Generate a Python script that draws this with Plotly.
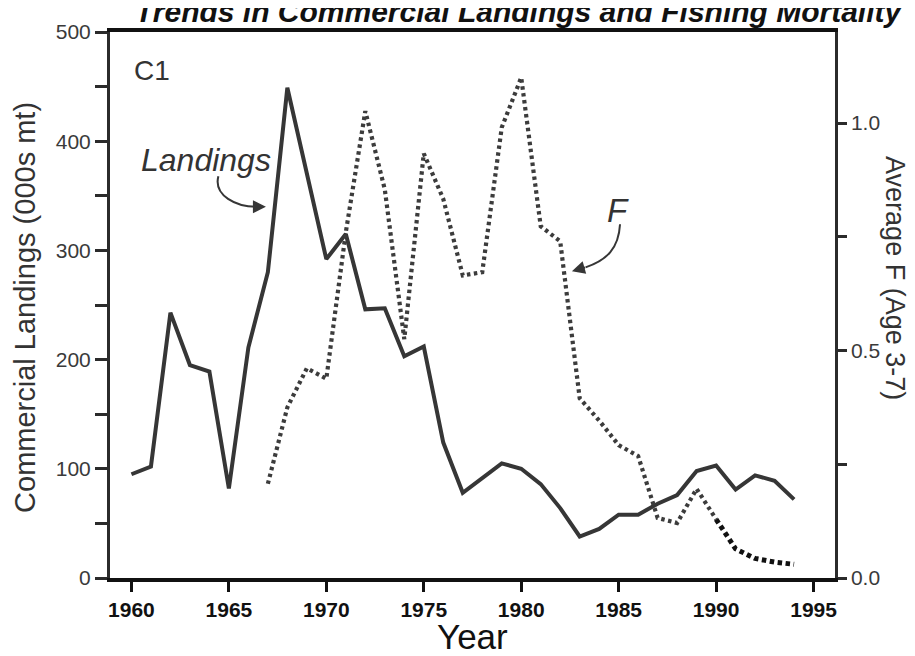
import plotly.graph_objects as go

# --- data ------------------------------------------------------------------
YEARS = list(range(1960, 1995))
LANDINGS = [95, 102, 243, 195, 189, 82, 211, 280, 449, 370,
            292, 315, 246, 247, 203, 212, 124, 78, 92, 105,
            100, 86, 64, 38, 45, 58, 58, 68, 76, 98,
            103, 81, 94, 89, 72]

F_YEARS = list(range(1967, 1995))
AVG_F = [0.207, 0.375, 0.461, 0.438, 0.76, 1.026, 0.854, 0.525, 0.933, 0.833,
         0.665, 0.672, 0.99, 1.10, 0.773, 0.74, 0.395, 0.346, 0.292, 0.268,
         0.132, 0.121, 0.196, 0.129, 0.064, 0.043, 0.035, 0.03]

X_TICKS = [1960, 1965, 1970, 1975, 1980, 1985, 1990, 1995]

FONT = "Arial, Liberation Sans, sans-serif"
INK = "#2b2b2b"
LINE = "#363636"

# split F so the last years can be drawn with the heavier dots
split = F_YEARS.index(1990)

fig = go.Figure()
fig.add_trace(go.Scatter(
    x=YEARS, y=LANDINGS, mode="lines", name="Landings",
    line={"color": LINE, "width": 4},
))
fig.add_trace(go.Scatter(
    x=F_YEARS[:split + 1], y=AVG_F[:split + 1], mode="lines", name="F",
    yaxis="y2", line={"color": "#3c3c3c", "width": 4.2, "dash": "3.5px,3.5px"},
))
fig.add_trace(go.Scatter(
    x=F_YEARS[split:], y=AVG_F[split:], mode="lines", name="F (recent)",
    yaxis="y2", line={"color": "#111111", "width": 5, "dash": "4.5px,3.5px"},
))

# the page body adds an 8px offset, so the figure is 8px smaller than the window
fig.update_layout(
    width=907, height=648,
    margin={"l": 102, "r": 80, "t": 13, "b": 78},
    paper_bgcolor="white", plot_bgcolor="white",
    showlegend=False,
    font={"family": FONT, "color": INK},
    xaxis={
        "range": [1958.9, 1996.1],
        "tickvals": X_TICKS,
        "ticktext": [f"<b>{v}</b>" for v in X_TICKS],
        "ticks": "outside", "ticklen": 10, "tickwidth": 3, "tickcolor": "#111",
        "tickfont": {"size": 21, "color": "#111"},
        "ticklabelstandoff": 0,
        "showline": True, "linewidth": 4, "linecolor": "#111", "mirror": True,
        "showgrid": False, "zeroline": False,
    },
    yaxis={
        "range": [0, 500], "dtick": 100,
        "ticks": "outside", "ticklen": 12, "tickwidth": 2.5, "tickcolor": INK,
        "minor": {"dtick": 50, "ticks": "outside", "ticklen": 12,
                  "tickwidth": 2.5, "tickcolor": INK, "showgrid": False},
        "tickfont": {"size": 21, "color": "#3a3a3a"},
        "showline": True, "linewidth": 3, "linecolor": INK,
        "showgrid": False, "zeroline": False,
    },
    yaxis2={
        "range": [0, 1.2], "dtick": 0.5, "tickformat": ".1f",
        "overlaying": "y", "side": "right",
        "ticks": "outside", "ticklen": 9, "tickwidth": 2.5, "tickcolor": INK,
        "minor": {"dtick": 0.25, "ticks": "outside", "ticklen": 9,
                  "tickwidth": 2.5, "tickcolor": INK, "showgrid": False},
        "tickfont": {"size": 21, "color": "#3a3a3a"},
        "showline": True, "linewidth": 2.5, "linecolor": INK,
        "showgrid": False, "zeroline": False,
    },
)

# curved pointer lines
fig.add_shape(type="path", xref="x", yref="y",
              path="M 1964.46,368 C 1964.2,350 1965.4,340 1966.4,340",
              line={"color": LINE, "width": 2})
fig.add_shape(type="path", xref="x", yref="y",
              path="M 1985.07,324 C 1985.0,302 1984.4,291 1983.3,284.5",
              line={"color": LINE, "width": 2})

annotations = [
    # arrow heads
    dict(x=1966.9, y=340, ax=1966.3, ay=340, xref="x", yref="y", axref="x", ayref="y",
         text="", showarrow=True, arrowhead=2, arrowsize=1.3, arrowwidth=2, arrowcolor=LINE),
    dict(x=1982.6, y=281, ax=1983.35, ay=284.8, xref="x", yref="y", axref="x", ayref="y",
         text="", showarrow=True, arrowhead=2, arrowsize=1.3, arrowwidth=2, arrowcolor=LINE),
    # labels inside plot
    dict(x=1960.05, y=465, xref="x", yref="y", xanchor="left", yanchor="middle",
         text="C1", showarrow=False, font={"size": 28, "color": "#333"}),
    dict(x=1960.4, y=383, xref="x", yref="y", xanchor="left", yanchor="middle",
         text="<i>Landings</i>", showarrow=False, font={"size": 32, "color": "#333"}),
    dict(x=1984.95, y=337, xref="x", yref="y", xanchor="center", yanchor="middle",
         text="<i>F</i>", showarrow=False, font={"size": 33, "color": "#333"}),
    # axis titles
    dict(x=-0.117, y=0.495, xref="paper", yref="paper", textangle=-90,
         xanchor="center", yanchor="middle", showarrow=False,
         text="Commercial Landings (000s mt)", font={"size": 29, "color": "#333"}),
    dict(x=1.083, y=0.549, xref="paper", yref="paper", textangle=90,
         xanchor="center", yanchor="middle", showarrow=False,
         text="Average F (Age 3-7)", font={"size": 27, "color": "#333"}),
    dict(x=0.5, y=-0.108, xref="paper", yref="paper",
         xanchor="center", yanchor="middle", showarrow=False,
         text="Year", font={"size": 35, "color": "#111"}),
    # title, cut off by the top of the page as in the reference
    dict(x=1.097, y=1.038, xref="paper", yref="paper",
         xanchor="right", yanchor="middle", showarrow=False,
         text="<b><i>Trends in Commercial Landings and Fishing Mortality</i></b>",
         font={"size": 30, "color": "#111"}),
]
fig.update_layout(annotations=annotations)

fig.write_html("out.html")
